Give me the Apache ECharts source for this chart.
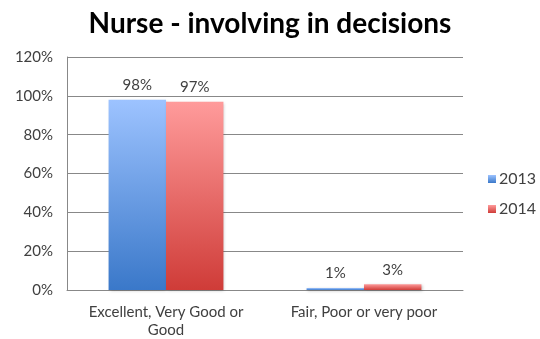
<!DOCTYPE html>
<html><head><meta charset="utf-8">
<script src="https://cdn.jsdelivr.net/npm/echarts@6/dist/echarts.min.js"></script>
<style>html,body{margin:0;padding:0;background:#fff}#c{width:540px;height:339px}</style>
</head><body><div id="c"></div>
<script>
const categories = ['Excellent, Very Good or\nGood', 'Fair, Poor or very poor'];
const series2013 = [98, 1];
const series2014 = [97, 3];
const yTicks = [0, 20, 40, 60, 80, 100, 120];

const chart = echarts.init(document.getElementById('c'));
const font = 'Lato, "Open Sans", sans-serif';
function grad(top, bottom) {
  return new echarts.graphic.LinearGradient(0, 0, 0, 1, [{offset: 0, color: top}, {offset: 1, color: bottom}]);
}
chart.setOption({
  animation: false,
  title: {text: 'Nurse - involving in decisions', left: 'center', top: 5,
    textStyle: {fontFamily: font, fontSize: 28, fontWeight: 'bold', color: '#000'}},
  legend: {orient: 'vertical', left: 488, top: 171, itemWidth: 8, itemHeight: 8, itemGap: 14, padding: 0,
    textStyle: {fontFamily: font, fontSize: 16, color: '#404040', padding: [0, 0, 0, -2]},
    data: [{name: '2013', icon: 'rect'}, {name: '2014', icon: 'rect'}]},
  grid: {left: 67, right: 77, top: 57, bottom: 49},
  xAxis: {type: 'category', data: categories,
    axisLine: {lineStyle: {color: '#888'}}, axisTick: {show: false},
    axisLabel: {interval: 0, fontFamily: font, fontSize: 15, color: '#404040', margin: 13, lineHeight: 18}},
  yAxis: {type: 'value', min: yTicks[0], max: yTicks[yTicks.length - 1], interval: 20,
    axisLine: {show: true, lineStyle: {color: '#888'}}, axisTick: {show: false},
    splitLine: {lineStyle: {color: '#888'}},
    axisLabel: {fontFamily: font, fontSize: 15, color: '#404040', margin: 14, formatter: '{value}%'}},
  series: [
    {name: '2013', type: 'bar', data: series2013, barCategoryGap: '42%', barGap: '0%',
      itemStyle: {color: grad('#9dc3ff', '#3a78c9'), shadowColor: 'rgba(0,0,0,0.25)', shadowBlur: 3, shadowOffsetX: 1, shadowOffsetY: 1},
      label: {show: true, position: 'top', formatter: '{c}%', fontFamily: font, fontSize: 15, color: '#404040', distance: 7}},
    {name: '2014', type: 'bar', data: series2014,
      itemStyle: {color: grad('#ff9b9b', '#cf3c38'), shadowColor: 'rgba(0,0,0,0.25)', shadowBlur: 3, shadowOffsetX: 1, shadowOffsetY: 1},
      label: {show: true, position: 'top', formatter: '{c}%', fontFamily: font, fontSize: 15, color: '#404040', distance: 7}}
  ]
});
</script></body></html>
